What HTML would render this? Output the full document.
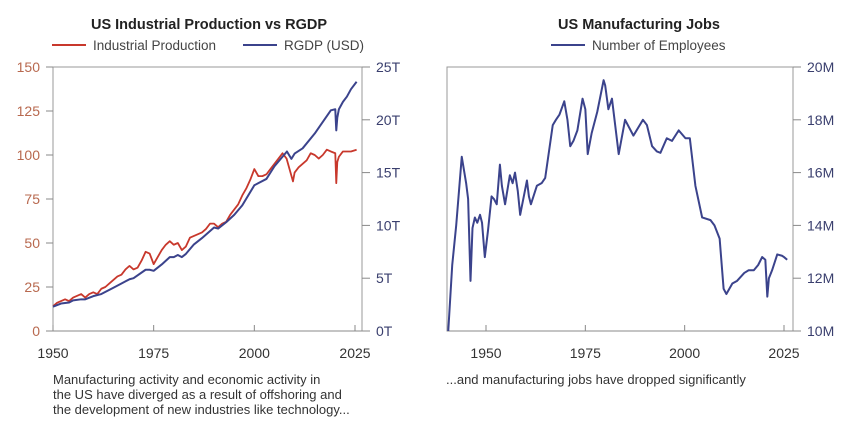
<!DOCTYPE html>
<html><head><meta charset="utf-8">
<style>
html,body{margin:0;padding:0;background:#fff;}
body{width:853px;height:429px;overflow:hidden;font-family:"Liberation Sans",sans-serif;}
svg text{font-family:"Liberation Sans",sans-serif;}
</style></head>
<body>
<svg id="c" width="853" height="429" viewBox="0 0 853 429">
  <rect width="853" height="429" fill="#fff"/>
  <text x="209" y="29" text-anchor="middle" font-size="14.5" font-weight="bold" fill="#222">US Industrial Production vs RGDP</text>
  <text x="639" y="29" text-anchor="middle" font-size="14.5" font-weight="bold" fill="#222">US Manufacturing Jobs</text>
  <g>
    <line x1="52" y1="45" x2="86" y2="45" stroke="#c8382c" stroke-width="2"/>
    <text x="93" y="50" font-size="13.5" fill="#444">Industrial Production</text>
  </g>
  <g>
    <line x1="243" y1="45" x2="277" y2="45" stroke="#3b438c" stroke-width="2"/>
    <text x="284" y="50" font-size="13.5" fill="#444">RGDP (USD)</text>
  </g>
  <g>
    <line x1="551" y1="45" x2="585" y2="45" stroke="#3b438c" stroke-width="2"/>
    <text x="592" y="50" font-size="13.5" fill="#444">Number of Employees</text>
  </g>
  <g id="L"></g>
  <g id="R"></g>
  <text font-size="13" fill="#333">
    <tspan x="53" y="384">Manufacturing activity and economic activity in</tspan>
    <tspan x="53" y="399">the US have diverged as a result of offshoring and</tspan>
    <tspan x="53" y="414">the development of new industries like technology...</tspan>
  </text>
  <text x="446" y="384" font-size="13" fill="#333">...and manufacturing jobs have dropped significantly</text>
</svg>
<script>
const ipYears=[1950,1951,1952,1953,1954,1955,1956,1957,1958,1959,1960,1961,1962,1963,1964,1965,1966,1967,1968,1969,1970,1971,1972,1973,1974,1975,1976,1977,1978,1979,1980,1981,1982,1983,1984,1985,1986,1987,1988,1989,1990,1991,1992,1993,1994,1995,1996,1997,1998,1999,2000,2001,2002,2003,2004,2005,2006,2007,2008,2009.6,2010,2011,2012,2013,2014,2015,2016,2017,2018,2019,2020.1,2020.35,2020.6,2021,2022,2023,2024,2025.4];
const ipValues=[14,16,17,18,17,19,20,21,19,21,22,21,24,25,27,29,31,32,35,37,35,36,40,45,44,38,42,46,49,51,49,50,46,48,53,54,55,56,58,61,61,59,61,62,66,69,72,77,81,86,92,88,88,89,92,95,98,101,98,85,90,93,95,97,101,100,98,100,103,102,101,84,96,99,102,102,102,103];
const gdpYears=[1950,1952,1954,1955,1957,1958,1960,1962,1965,1967,1969,1970,1973,1974,1975,1977,1979,1980,1981,1982,1983,1985,1987,1990,1991,1993,1995,1997,2000,2001,2003,2005,2008.1,2009.2,2010,2012,2015,2019,2020.1,2020.35,2020.6,2021,2022,2023,2024,2025.4];
const gdpValues=[2.3,2.6,2.7,2.9,3.0,3.0,3.3,3.5,4.1,4.5,4.9,5.0,5.8,5.8,5.7,6.3,7.0,7.0,7.2,7.0,7.3,8.2,8.8,9.8,9.7,10.3,11.0,11.9,13.8,14.0,14.4,15.6,17.0,16.3,16.8,17.3,18.7,20.9,21.0,19.0,20.2,21.0,21.7,22.2,22.9,23.6];
const jobYears=[1940.5,1941.5,1942.5,1943.9,1945,1945.5,1946.1,1946.6,1947.2,1947.8,1948.5,1949,1949.7,1950.5,1951.4,1952,1952.7,1953.5,1954,1954.8,1956,1956.7,1957.3,1958,1958.6,1960.3,1960.8,1961.3,1962.8,1964,1964.9,1966.8,1967.6,1968.5,1969.7,1970.5,1971.2,1972,1973,1974.3,1975,1975.6,1976.6,1978,1979.6,1980,1980.8,1981.7,1983.4,1985,1987.1,1989.5,1990.5,1991.8,1993,1993.9,1995.5,1996.8,1998.5,2000.2,2001.3,2002.7,2004.4,2006.5,2007.5,2008.8,2009.8,2010.5,2012,2013.2,2015,2016.1,2017.4,2018.5,2019.5,2020.3,2020.8,2021.2,2022,2023.3,2024.5,2025,2025.8];
const jobValues=[10.0,12.5,14.0,16.6,15.6,15.0,11.9,13.9,14.3,14.1,14.4,14.1,12.8,13.8,15.1,15.0,14.8,16.3,15.5,14.8,15.9,15.6,16.0,15.3,14.4,15.7,15.1,14.8,15.5,15.6,15.8,17.8,18.0,18.2,18.7,18.0,17.0,17.2,17.6,18.8,18.4,16.7,17.5,18.3,19.5,19.3,18.4,18.8,16.7,18.0,17.4,18.0,17.8,17.0,16.8,16.75,17.3,17.2,17.6,17.3,17.3,15.5,14.3,14.2,14.0,13.5,11.6,11.4,11.8,11.9,12.2,12.3,12.3,12.5,12.8,12.7,11.3,12.0,12.3,12.9,12.85,12.8,12.7];
const leftTicks=[0,25,50,75,100,125,150];
const rightTicksT=[0,5,10,15,20,25];
const jobTicks=[10,12,14,16,18,20];
const xTicks=[1950,1975,2000,2025];

const NS="http://www.w3.org/2000/svg";
function mk(p,t,a){const e=document.createElementNS(NS,t);for(const k in a)e.setAttribute(k,a[k]);p.appendChild(e);return e;}
const plotTop=67,plotBot=331;
// Left chart
const L=document.getElementById('L');
const lx=y=>53+(y-1950)*(355-53)/75;
const ly=v=>plotBot-(v/150)*(plotBot-plotTop);
const ry=v=>plotBot-(v/25)*(plotBot-plotTop);
let e=mk(L,'rect',{x:53,y:plotTop,width:309,height:plotBot-plotTop,fill:'none',stroke:'#999','stroke-width':1});


e=mk(L,'line',{x1:46,y1:plotBot,x2:370,y2:plotBot,stroke:'#888'});


leftTicks.forEach(v=>{
  mk(L,'line',{x1:46,y1:ly(v),x2:53,y2:ly(v),stroke:'#888'});
  const t=mk(L,'text',{x:40,y:ly(v)+5,'text-anchor':'end','font-size':14,fill:'#b8694f'});t.textContent=v;
  
  
});
rightTicksT.forEach(v=>{
  mk(L,'line',{x1:362,y1:ry(v),x2:370,y2:ry(v),stroke:'#888'});
  const t=mk(L,'text',{x:376,y:ry(v)+5,'font-size':14,fill:'#3a3f6e'});t.textContent=v+'T';
  
  
});
xTicks.forEach(v=>{
  mk(L,'line',{x1:lx(v),y1:plotBot-6,x2:lx(v),y2:plotBot,stroke:'#888'});
  const t=mk(L,'text',{x:lx(v),y:358,'text-anchor':'middle','font-size':14,fill:'#333'});t.textContent=v;
  
  
});
e=mk(L,'polyline',{points:ipYears.map((y,i)=>lx(y)+','+ly(ipValues[i])).join(' '),fill:'none',stroke:'#c8382c','stroke-width':1.8,'stroke-linejoin':'round'});


e=mk(L,'polyline',{points:gdpYears.map((y,i)=>lx(y)+','+ry(gdpValues[i])).join(' '),fill:'none',stroke:'#3b438c','stroke-width':2,'stroke-linejoin':'round'});


// Right chart
const R=document.getElementById('R');
const jx=y=>486+(y-1950)*(784-486)/75;
const jy=v=>plotBot-((v-10)/10)*(plotBot-plotTop);
e=mk(R,'rect',{x:447,y:plotTop,width:346,height:plotBot-plotTop,fill:'none',stroke:'#999','stroke-width':1});


e=mk(R,'line',{x1:447,y1:plotBot,x2:801,y2:plotBot,stroke:'#888'});


jobTicks.forEach(v=>{
  mk(R,'line',{x1:793,y1:jy(v),x2:801,y2:jy(v),stroke:'#888'});
  const t=mk(R,'text',{x:807,y:jy(v)+5,'font-size':14,fill:'#3a3f6e'});t.textContent=v+'M';
  
  
});
xTicks.forEach(v=>{
  mk(R,'line',{x1:jx(v),y1:plotBot-6,x2:jx(v),y2:plotBot,stroke:'#888'});
  const t=mk(R,'text',{x:jx(v),y:358,'text-anchor':'middle','font-size':14,fill:'#333'});t.textContent=v;
  
  
});
e=mk(R,'polyline',{points:jobYears.map((y,i)=>jx(y)+','+jy(jobValues[i])).join(' '),fill:'none',stroke:'#3b438c','stroke-width':2,'stroke-linejoin':'round'});


</script>
</body></html>
